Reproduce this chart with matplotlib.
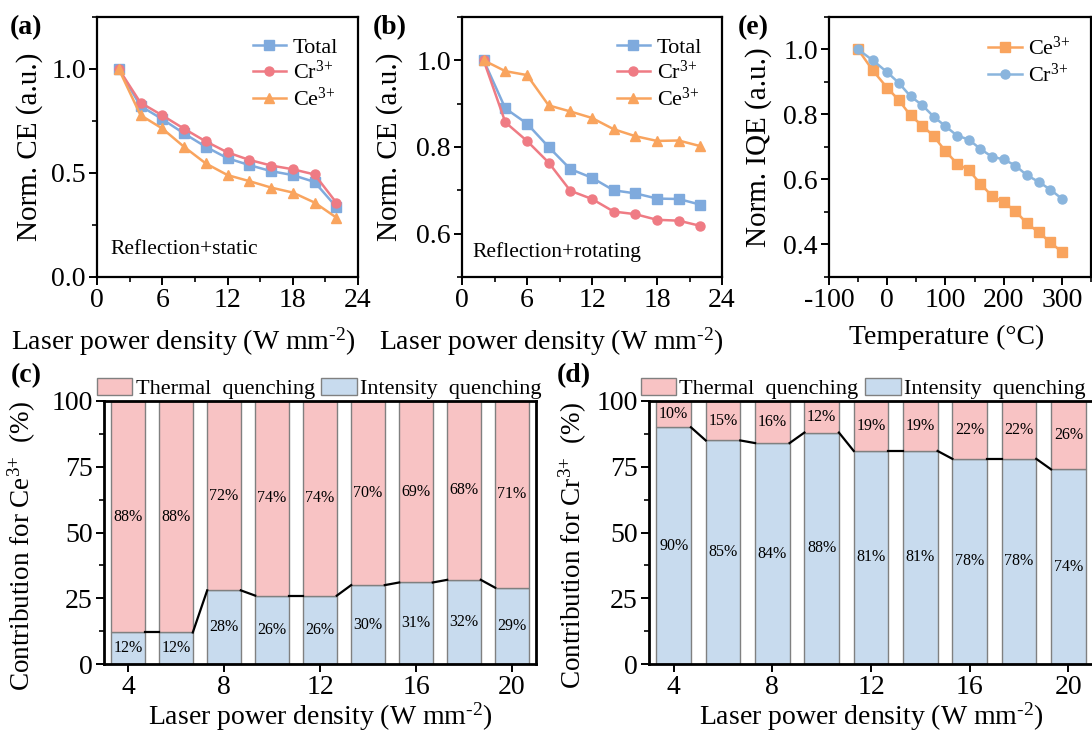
import numpy as np
import matplotlib
matplotlib.use('Agg')
from matplotlib import pyplot as plt
from matplotlib.patches import Patch
from matplotlib.ticker import MultipleLocator, FormatStrFormatter

plt.rcParams['font.family'] = 'Liberation Serif'
plt.rcParams['mathtext.fontset'] = 'custom'
plt.rcParams['mathtext.rm'] = 'Liberation Serif'
plt.rcParams['mathtext.default'] = 'regular'
plt.rcParams['axes.unicode_minus'] = False

# (a) reflection + static
power = [2, 4, 6, 8, 10, 12, 14, 16, 18, 20, 22]
a_total = [1.0, 0.822, 0.759, 0.690, 0.626, 0.571, 0.538, 0.509, 0.490, 0.457, 0.337]
a_cr = [1.0, 0.838, 0.777, 0.713, 0.652, 0.599, 0.563, 0.536, 0.518, 0.493, 0.358]
a_ce = [1.0, 0.778, 0.714, 0.626, 0.546, 0.490, 0.461, 0.430, 0.406, 0.358, 0.286]

# (b) reflection + rotating
b_total = [1.0, 0.889, 0.854, 0.800, 0.749, 0.729, 0.700, 0.693, 0.681, 0.680, 0.667]
b_cr = [1.0, 0.857, 0.814, 0.764, 0.699, 0.680, 0.651, 0.645, 0.632, 0.630, 0.618]
b_ce = [1.0, 0.975, 0.966, 0.896, 0.882, 0.867, 0.841, 0.825, 0.814, 0.815, 0.802]

# (e) temperature dependence
temp = [-50, -25, 0, 20, 40, 60, 80, 100, 120, 140, 160, 180, 200, 220, 240, 260, 280, 300]
e_ce = [1.0, 0.936, 0.882, 0.844, 0.797, 0.766, 0.733, 0.687, 0.649, 0.629, 0.587,
        0.549, 0.530, 0.503, 0.465, 0.438, 0.407, 0.377]
e_cr = [1.0, 0.967, 0.930, 0.897, 0.856, 0.829, 0.793, 0.764, 0.735, 0.723, 0.694,
        0.670, 0.662, 0.643, 0.613, 0.593, 0.569, 0.541]

# (c)/(d) contributions
bar_power = [4, 6, 8, 10, 12, 14, 16, 18, 20]
ce_intensity = [12, 12, 28, 26, 26, 30, 31, 32, 29]
ce_thermal = [88, 88, 72, 74, 74, 70, 69, 68, 71]
cr_intensity = [90, 85, 84, 88, 81, 81, 78, 78, 74]
cr_thermal = [10, 15, 16, 12, 19, 19, 22, 22, 26]

C_BLUE = '#7faadd'
C_RED = '#ef7b84'
C_ORANGE = '#f9a45e'
C_PINK = '#f8c3c4'
C_LBLUE = '#c8dbee'

CR = 'Cr$^{3{+}}$'
CE = 'Ce$^{3{+}}$'

W, H = 1092, 735
fig = plt.figure(figsize=(W / 100, H / 100), dpi=100)


def ax_at(l, t, r, b):
    return fig.add_axes([l / W, 1 - b / H, (r - l) / W, (b - t) / H])


def style(ax, lw=1.6):
    for s in ax.spines.values():
        s.set_linewidth(lw)
    ax.tick_params(which='major', direction='out', length=6, width=1.4, labelsize=20, pad=2)
    ax.tick_params(which='minor', direction='out', length=3.5, width=1.2)


def line_panel(ax, x, series, xlim, ylim, xmaj, xmin, ymaj, ymin, ylabel, xlabel, ylab_x, xlab_x):
    for y, c, m, lab in series:
        ax.plot(x, y, color=c, marker=m, markersize=6.5, linewidth=1.8, label=lab)
    ax.set_xlim(*xlim)
    ax.set_ylim(*ylim)
    ax.xaxis.set_major_locator(MultipleLocator(xmaj))
    ax.xaxis.set_minor_locator(MultipleLocator(xmin))
    ax.yaxis.set_major_locator(MultipleLocator(ymaj))
    ax.yaxis.set_minor_locator(MultipleLocator(ymin))
    ax.yaxis.set_major_formatter(FormatStrFormatter('%.1f'))
    ax.set_ylabel(ylabel, fontsize=21)
    ax.yaxis.set_label_coords(ylab_x, 0.5)
    ax.set_xlabel(xlabel, fontsize=20)
    ax.xaxis.set_label_coords(xlab_x, -0.185)
    style(ax)
    ax.legend(frameon=False, loc='upper right', fontsize=16, handlelength=1.5,
              handletextpad=0.3, labelspacing=0.15, borderaxespad=0.5)


xlab = 'Laser power density (W mm$^{\\text{-}2}$)'

ax1 = ax_at(97, 17, 358, 277)
line_panel(ax1, power, [(a_total, C_BLUE, 's', 'Total'), (a_cr, C_RED, 'o', CR),
                        (a_ce, C_ORANGE, '^', CE)],
           (0, 24), (0, 1.25), 6, 3, 0.5, 0.25, 'Norm. CE (a.u.)', xlab, -0.207, 0.33)
ax1.text(0.05, 0.104, 'Reflection+static', transform=ax1.transAxes, fontsize=15.5, va='center')

ax2 = ax_at(462, 17, 722, 277)
line_panel(ax2, power, [(b_total, C_BLUE, 's', 'Total'), (b_cr, C_RED, 'o', CR),
                        (b_ce, C_ORANGE, '^', CE)],
           (0, 24), (0.5, 1.1), 6, 3, 0.2, 0.1, 'Norm. CE (a.u.)', xlab, -0.227, 0.345)
ax2.text(0.04, 0.096, 'Reflection+rotating', transform=ax2.transAxes, fontsize=15.5, va='center')

ax3 = ax_at(829, 17, 1091, 277)
line_panel(ax3, temp, [(e_ce, C_ORANGE, 's', CE), (e_cr, '#8ab5dd', 'o', CR)],
           (-100, 350), (0.3, 1.1), 100, 50, 0.2, 0.1, 'Norm. IQE (a.u.)', 'Temperature (°C)',
           -0.218, 0.45)


def bar_panel(ax, inten, therm, ylabel, ylab_x, leg_x):
    w = 1.4
    ax.bar(bar_power, inten, width=w, color=C_LBLUE, edgecolor='#808080', linewidth=1.0)
    ax.bar(bar_power, therm, width=w, bottom=inten, color=C_PINK, edgecolor='#808080', linewidth=1.0)
    for i in range(len(bar_power) - 1):
        ax.plot([bar_power[i] + w / 2, bar_power[i + 1] - w / 2], [inten[i], inten[i + 1]],
                color='black', linewidth=1.6)
    for x, a, b in zip(bar_power, inten, therm):
        ax.text(x, a / 2, '%d%%' % a, ha='center', va='center', fontsize=11.5)
        ax.text(x, a + b / 2, '%d%%' % b, ha='center', va='center', fontsize=11.5)
    ax.set_xlim(3, 21)
    ax.set_ylim(0, 100)
    ax.xaxis.set_major_locator(MultipleLocator(4))
    ax.yaxis.set_major_locator(MultipleLocator(25))
    ax.yaxis.set_minor_locator(MultipleLocator(12.5))
    ax.set_ylabel(ylabel, fontsize=19.5)
    ax.yaxis.set_label_coords(ylab_x, 0.45)
    ax.set_xlabel(xlab, fontsize=20, labelpad=0)
    style(ax, lw=2.0)
    handles = [Patch(facecolor=C_PINK, edgecolor='#808080', label='Thermal  quenching'),
               Patch(facecolor=C_LBLUE, edgecolor='#808080', label='Intensity  quenching')]
    ax.legend(handles=handles, ncol=2, frameon=False, loc='lower left',
              bbox_to_anchor=(leg_x, 1.0), fontsize=16, handlelength=1.6, handleheight=0.8,
              handletextpad=0.15, columnspacing=0.3, borderaxespad=0, borderpad=0.1)


ax4 = ax_at(104, 401, 536, 664)
bar_panel(ax4, ce_intensity, ce_thermal, 'Contribution for ' + CE + '  (%)', -0.153, -0.022)

ax5 = ax_at(649, 401, 1093, 664)
bar_panel(ax5, cr_intensity, cr_thermal, 'Contribution for ' + CR + '  (%)', -0.135, -0.024)

for lab, x, y in [('(a)', 10, 28), ('(b)', 373, 28), ('(e)', 738, 28), ('(c)', 11, 376), ('(d)', 557, 376)]:
    fig.text(x / W, 1 - y / H, lab, fontsize=20, fontweight='bold', va='center', ha='left')

plt.savefig('out.png', dpi=100)
